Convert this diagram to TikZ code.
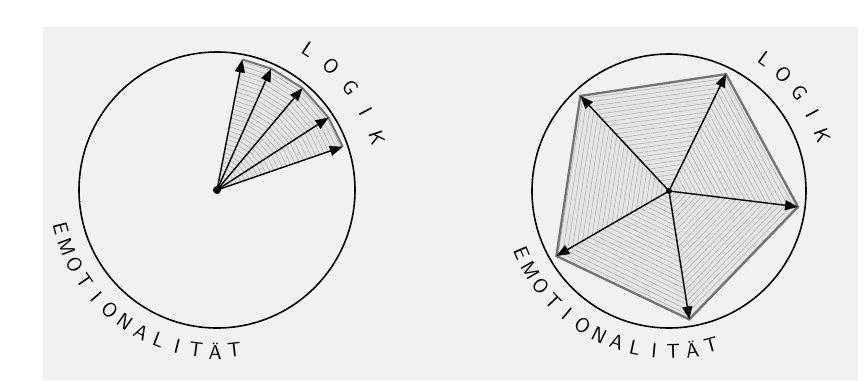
\documentclass[tikz,border=0pt]{standalone}
\usepackage{tikz}
\usetikzlibrary{arrows.meta,calc,patterns.meta}
\definecolor{paper}{RGB}{241,241,241}

\begin{document}
\begin{tikzpicture}[x=0.02cm,y=0.02cm,font=\sffamily\fontsize{11.5}{14}\selectfont,
  arr/.style={line width=0.8pt,-{Triangle[length=0.26cm,width=0.2cm]}},
  rim/.style={line width=0.9pt},
  shade/.style={fill=black!10},
  hatch/.style={pattern={Lines[angle=#1,distance=2.5pt,line width=0.35pt]},pattern color=black!30},
  lbl/.style={inner sep=0pt}]
  \useasboundingbox (0,0) rectangle (867,380);
  \fill[paper] (43,0) rectangle (858,353);

  % left: a narrow fan of arrows
  \coordinate (lc) at (217,190);
  \foreach \a [count=\i] in {79,66,50,33,19}
    \coordinate (lt\i) at ($(lc)+(\a:133)$);
  \foreach \i/\j/\h in {1/2/162,2/3/148,3/4/131,4/5/116} {
    \fill[shade] (lc) -- (lt\i) -- (lt\j) -- cycle;
    \fill[hatch=\h] (lc) -- (lt\i) -- (lt\j) -- cycle;
  }
  \draw[black!55,line width=1.1pt] (lt1) -- (lt2) -- (lt3) -- (lt4) -- (lt5);
  \draw[rim] (lc) circle (138);
  \foreach \i in {1,...,5}
    \draw[arr] (lc) -- (lt\i);
  \fill (lc) circle (4);
  \foreach \ch [count=\k, evaluate=\k as \a using 57-(\k-1)*9.75] in {L,O,G,I,K}
    \node[lbl,rotate=\a-90] (llog\k) at ($(lc)+(\a:168)$) {\ch};
  \foreach \ch [count=\k, evaluate=\k as \a using 194+(\k-1)*6.85] in {E,M,O,T,I,O,N,A,L,I,T,Ä,T}
    \node[lbl,rotate=\a+90] (lemo\k) at ($(lc)+(\a:161)$) {\ch};

  % right: arrows all round, a pentagon
  \coordinate (rc) at (669,189);
  \foreach \a [count=\i] in {64,-7,-81,210,133}
    \coordinate (p\i) at ($(rc)+(\a:130)$);
  \foreach \i/\j/\h in {1/2/118,2/3/46,3/4/154,4/5/81,5/1/8} {
    \fill[shade] (rc) -- (p\i) -- (p\j) -- cycle;
    \fill[hatch=\h] (rc) -- (p\i) -- (p\j) -- cycle;
  }
  \draw[black!55,line width=1.3pt] (p1) -- (p2) -- (p3) -- (p4) -- (p5) -- cycle;
  \draw[rim] (rc) circle (137);
  \foreach \i in {1,...,5}
    \draw[arr] (rc) -- (p\i);
  \fill (rc) circle (3);
  \foreach \ch [count=\k, evaluate=\k as \a using 54-(\k-1)*8.5] in {L,O,G,I,K}
    \node[lbl,rotate=\a-90] (rlog\k) at ($(rc)+(\a:163)$) {\ch};
  \foreach \ch [count=\k, evaluate=\k as \a using 203+(\k-1)*6.85] in {E,M,O,T,I,O,N,A,L,I,T,Ä,T}
    \node[lbl,rotate=\a+90] (remo\k) at ($(rc)+(\a:160)$) {\ch};
\end{tikzpicture}
\end{document}
